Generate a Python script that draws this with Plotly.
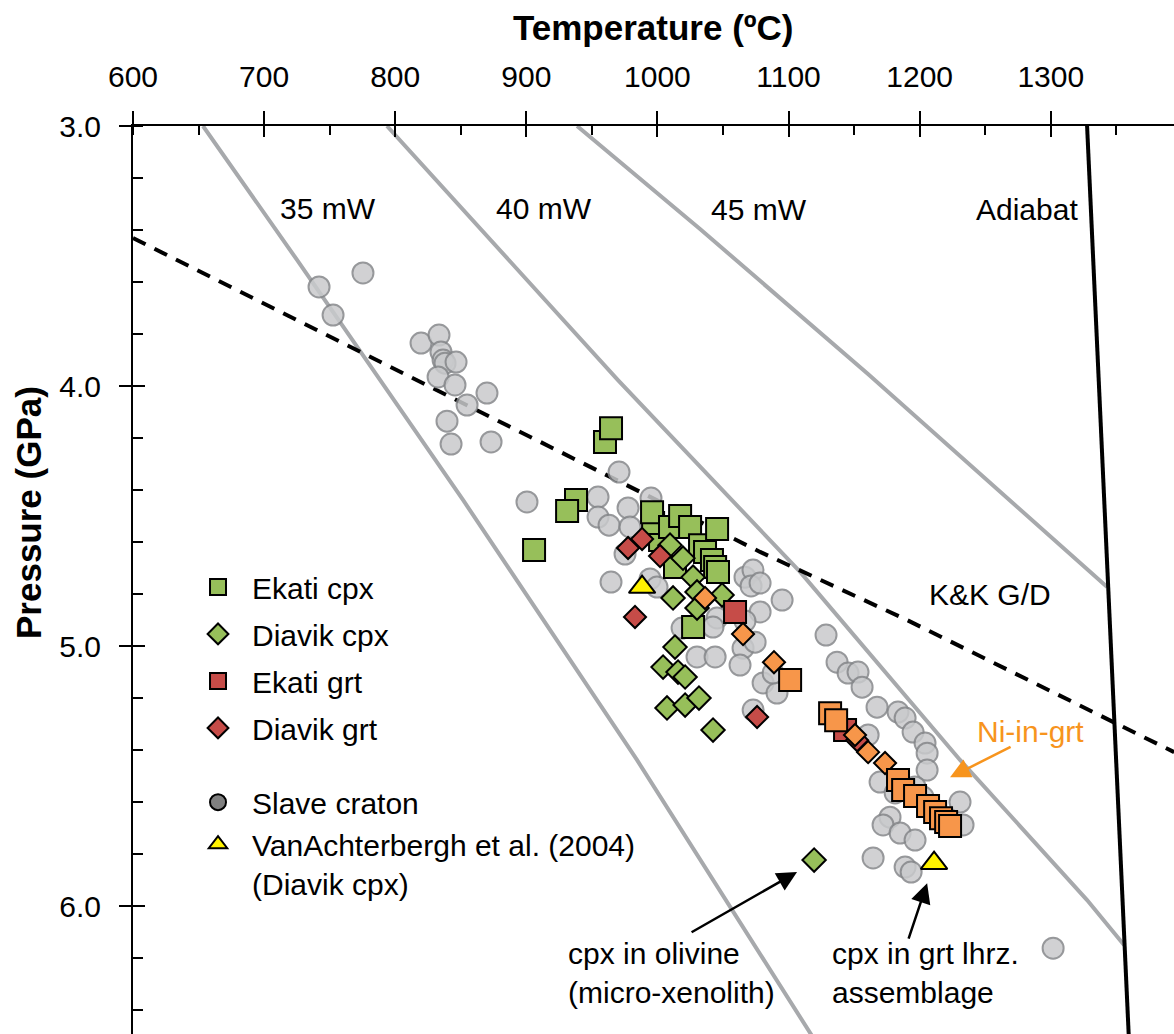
import plotly.graph_objects as go

FONT = "Liberation Sans, Arial, Helvetica, sans-serif"

# ---------------- data (Temperature in °C, Pressure in GPa) ----------------
geo35_T = [653.4, 725.1, 851.7, 984.4, 1118.0]
geo35_P = [3.000, 3.515, 4.438, 5.438, 6.500]

geo40_T = [793.7, 879.9, 969.9, 1108.8, 1230.8, 1327.7, 1355.9]
geo40_P = [3.000, 3.477, 3.977, 4.715, 5.438, 5.977, 6.150]

geo45_T = [938.7, 1032.5, 1160.6, 1307.1, 1343.0]
geo45_P = [3.000, 3.396, 3.954, 4.612, 4.773]

kk_T = [600.0, 872.3, 1078.3, 1190.4, 1394.1]
kk_P = [3.431, 4.119, 4.638, 4.900, 5.408]

adiabat_T = [1327.7, 1359.5]
adiabat_P = [3.000, 6.500]

slave_T = [741.9, 752.6, 775.4, 819.7, 833.4, 834.9, 836.5, 838.0, 846.4, 832.7,
           845.6, 870.0, 854.8, 839.5, 842.6, 873.1, 970.7, 900.5, 954.7, 954.7,
           963.1, 977.6, 979.1, 995.1, 975.3, 964.6, 994.4, 999.7, 1066.8, 1072.9,
           1071.4, 1095.1, 1078.3, 1045.5, 1066.8, 1018.8, 1042.4, 1030.2, 1044.0, 1065.3,
           1074.5, 1063.0, 1080.6, 1091.2, 1073.0, 1088.2, 1128.6, 1137.0, 1145.4, 1153.0,
           1156.1, 1167.5, 1183.5, 1188.9, 1195.0, 1204.1, 1205.7, 1169.8, 1181.3, 1205.7,
           1196.5, 1202.6, 1230.8, 1233.1, 1177.4, 1172.1, 1185.1, 1196.5, 1164.5, 1188.9,
           1193.5, 1301.8, 1160.7, 1078.3]
slave_P = [3.619, 3.727, 3.565, 3.835, 3.804, 3.869, 3.900, 3.912, 3.908, 3.965,
           3.996, 4.027, 4.073, 4.135, 4.223, 4.215, 4.331, 4.446, 4.427, 4.504,
           4.535, 4.469, 4.542, 4.431, 4.646, 4.754, 4.742, 4.773, 4.735, 4.708,
           4.769, 4.823, 4.869, 4.892, 4.904, 4.931, 4.927, 5.042, 5.042, 5.008,
           4.985, 5.073, 5.142, 5.181, 5.246, 5.104, 4.958, 5.062, 5.104, 5.100,
           5.158, 5.235, 5.254, 5.277, 5.331, 5.373, 5.412, 5.523, 5.565, 5.477,
           5.542, 5.581, 5.600, 5.688, 5.658, 5.688, 5.719, 5.746, 5.815, 5.850,
           5.869, 6.162, 5.342, 4.758]

ekati_cpx_T = [960.0, 964.6, 937.9, 931.1, 905.9, 1002.0, 996.7, 995.9, 1009.6, 1017.3,
               1024.9, 1032.5, 1036.3, 1045.5, 1041.6, 1013.4, 1044.0, 1046.2, 1027.2]
ekati_cpx_P = [4.215, 4.162, 4.438, 4.481, 4.631, 4.592, 4.527, 4.485, 4.542, 4.500,
               4.542, 4.612, 4.638, 4.550, 4.669, 4.696, 4.696, 4.715, 4.927]

diavik_cpx_T = [1009.6, 1019.5, 1027.2, 1030.2, 1049.3, 1011.9, 1030.2, 1013.4, 1004.3, 1015.7,
                1021.1, 1007.3, 1021.1, 1031.7, 1042.4, 1119.5]
diavik_cpx_P = [4.612, 4.662, 4.735, 4.792, 4.804, 4.815, 4.854, 5.004, 5.081, 5.100,
                5.119, 5.238, 5.227, 5.200, 5.323, 5.823]

ekati_grt_T = [1059.2, 1143.1]
ekati_grt_P = [4.869, 5.323]

diavik_grt_T = [977.6, 988.3, 1002.0, 982.9, 1076.0, 1152.3]
diavik_grt_P = [4.623, 4.588, 4.654, 4.888, 5.273, 5.362]

ni_sq_T = [1101.2, 1131.7, 1136.3, 1183.5, 1187.4, 1196.5, 1206.4, 1211.8, 1216.3, 1220.2, 1223.2]
ni_sq_P = [5.131, 5.258, 5.285, 5.515, 5.554, 5.577, 5.615, 5.638, 5.662, 5.677, 5.692]

ni_di_T = [1036.3, 1065.3, 1088.9, 1150.7, 1160.7, 1173.6]
ni_di_P = [4.815, 4.954, 5.062, 5.342, 5.408, 5.450]

vanach_T = [988.3, 1211.0]
vanach_P = [4.773, 5.835]

# ---------------- colours ----------------
GREEN = "#97bf5a"
RED = "#c64c48"
ORANGE = "#f7964a"
GREY_FILL = "#c9cacc"
GREY_LINE = "#85878a"
YELLOW = "#fff200"
GEO = "#a7a9ac"

fig = go.Figure()

# lines
for T, P in [(geo35_T, geo35_P), (geo40_T, geo40_P), (geo45_T, geo45_P)]:
    fig.add_trace(go.Scatter(x=T, y=P, mode="lines", line=dict(color=GEO, width=4),
                             showlegend=False, hoverinfo="skip"))
fig.add_trace(go.Scatter(x=kk_T, y=kk_P, mode="lines",
                         line=dict(color="black", width=4, dash="14px,10px"),
                         showlegend=False, hoverinfo="skip"))
fig.add_trace(go.Scatter(x=adiabat_T, y=adiabat_P, mode="lines",
                         line=dict(color="black", width=4), showlegend=False, hoverinfo="skip"))

# Slave craton (plot) + legend proxy
fig.add_trace(go.Scatter(x=slave_T, y=slave_P, mode="markers", name="Slave craton",
                         marker=dict(symbol="circle", size=21, color=GREY_FILL, opacity=0.85,
                                     line=dict(color=GREY_LINE, width=2)),
                         showlegend=False, legendgroup="g5"))

def pts(T, P, name, symbol, size, color, show=True, group=None, legend="legend"):
    fig.add_trace(go.Scatter(x=T, y=P, mode="markers", name=name,
                             marker=dict(symbol=symbol, size=size, color=color,
                                         line=dict(color="black", width=2)),
                             showlegend=show, legendgroup=group, legend=legend))

pts(ekati_cpx_T, ekati_cpx_P, "Ekati cpx", "square", 22, GREEN, group="g1")
pts(diavik_cpx_T, diavik_cpx_P, "Diavik cpx", "diamond", 18, GREEN, group="g2")
pts(ekati_grt_T, ekati_grt_P, "Ekati grt", "square", 22, RED, group="g3")
pts(diavik_grt_T, diavik_grt_P, "Diavik grt", "diamond", 17, RED, group="g4")
pts(ni_di_T, ni_di_P, "Diavik grt (Ni-in-grt)", "diamond", 17, ORANGE, show=False)
pts(ni_sq_T, ni_sq_P, "Ekati grt (Ni-in-grt)", "square", 22, ORANGE, show=False)

fig.add_trace(go.Scatter(x=[None], y=[None], mode="markers", name="Slave craton",
                         marker=dict(symbol="circle", size=16, color="#808080",
                                     line=dict(color="black", width=2)),
                         legendgroup="g5", legend="legend2"))
pts(vanach_T, vanach_P, "VanAchterbergh et al. (2004)<br>(Diavik cpx)", "triangle-up", 23, YELLOW,
    group="g6", legend="legend2")

# dummy trace for overlay axes (inside halves of crossing major ticks)
fig.add_trace(go.Scatter(x=[None], y=[None], xaxis="x2", yaxis="y2", showlegend=False,
                         hoverinfo="skip"))

XR = [600, 1394]
YR = [6.492, 3.0]

fig.update_layout(
    width=1174, height=1034,
    margin=dict(l=133, r=0, t=126, b=0),
    plot_bgcolor="white", paper_bgcolor="white",
    font=dict(family=FONT, size=30, color="black"),
    showlegend=True,
    xaxis=dict(range=XR, side="top", tickmode="linear", tick0=600, dtick=100,
               ticks="outside", ticklen=13, tickwidth=2, tickcolor="black",
               showline=True, linewidth=2, linecolor="black", showgrid=False, zeroline=False,
               tickfont=dict(size=30, family=FONT), ticklabelstandoff=12,
               minor=dict(ticks="inside", tickmode="linear", tick0=600, dtick=50, ticklen=9,
                          tickwidth=2, tickcolor="black", showgrid=False)),
    xaxis2=dict(range=XR, overlaying="x", side="top", anchor="y", tickmode="linear", tick0=600,
                dtick=100, ticks="inside", ticklen=11, tickwidth=2, tickcolor="black",
                showticklabels=False, showline=False, showgrid=False, zeroline=False),
    yaxis=dict(range=YR, tickmode="linear", tick0=3.0, dtick=1.0, tickformat=".1f",
               ticks="outside", ticklen=12, tickwidth=2, tickcolor="black",
               showline=True, linewidth=2, linecolor="black", showgrid=False, zeroline=False,
               tickfont=dict(size=30, family=FONT), ticklabelstandoff=12,
               minor=dict(ticks="inside", tickmode="linear", tick0=3.0, dtick=0.2, ticklen=10,
                          tickwidth=2, tickcolor="black", showgrid=False)),
    yaxis2=dict(range=YR, overlaying="y", side="left", anchor="x", tickmode="linear", tick0=3.0,
                dtick=1.0, ticks="inside", ticklen=12, tickwidth=2, tickcolor="black",
                showticklabels=False, showline=False, showgrid=False, zeroline=False),
    legend=dict(x=0.049, y=0.521, xanchor="left", yanchor="top", bgcolor="rgba(0,0,0,0)",
                font=dict(size=30, family=FONT), itemwidth=58, tracegroupgap=5,
                traceorder="grouped", itemsizing="trace"),
    legend2=dict(x=0.049, y=0.284, xanchor="left", yanchor="top", bgcolor="rgba(0,0,0,0)",
                 font=dict(size=30, family=FONT), itemwidth=58, tracegroupgap=0,
                 traceorder="grouped", valign="top", itemsizing="trace"),
)

ann = []
def txt(x, y, s, color="black", xanchor="center", size=30, align="center"):
    ann.append(dict(x=x, y=y, xref="x", yref="y", text=s, showarrow=False,
                    xanchor=xanchor, yanchor="middle", align=align,
                    font=dict(size=size, color=color, family=FONT)))

txt(748.7, 3.319, "35 mW")
txt(913.5, 3.319, "40 mW")
txt(1077.5, 3.323, "45 mW")
txt(1281.9, 3.323, "Adiabat")
txt(1253.7, 4.800, "K&K G/D")
txt(1284.2, 5.330, "Ni-in-grt", color="#f7941d")
txt(930.3, 6.258, "cpx in olivine<br>(micro-xenolith)", xanchor="left", align="left")
txt(1131.7, 6.258, "cpx in grt lhrz.<br>assemblage", xanchor="left", align="left")

def arrow(x, y, ax, ay, color="black"):
    ann.append(dict(x=x, y=y, xref="x", yref="y", ax=ax, ay=ay, axref="x", ayref="y",
                    text="", showarrow=True, arrowhead=2, arrowsize=1.6, arrowwidth=2.5,
                    arrowcolor=color, standoff=0))

arrow(1106.5, 5.869, 1024.9, 6.104)
arrow(1205.7, 5.912, 1191.2, 6.131)
arrow(1223.2, 5.505, 1270.5, 5.385, color="#f7941d")

# axis titles
ann.append(dict(x=0.5, y=1.109, xref="paper", yref="paper", text="<b>Temperature (ºC)</b>",
                showarrow=False, xanchor="center", yanchor="middle",
                font=dict(size=35, family=FONT, color="black")))
ann.append(dict(x=-0.0999, y=0.5738, xref="paper", yref="paper", text="<b>Pressure (GPa)</b>",
                showarrow=False, xanchor="center", yanchor="middle", textangle=-90,
                font=dict(size=35, family=FONT, color="black")))

fig.update_layout(annotations=ann)
fig.write_html("out.html")
